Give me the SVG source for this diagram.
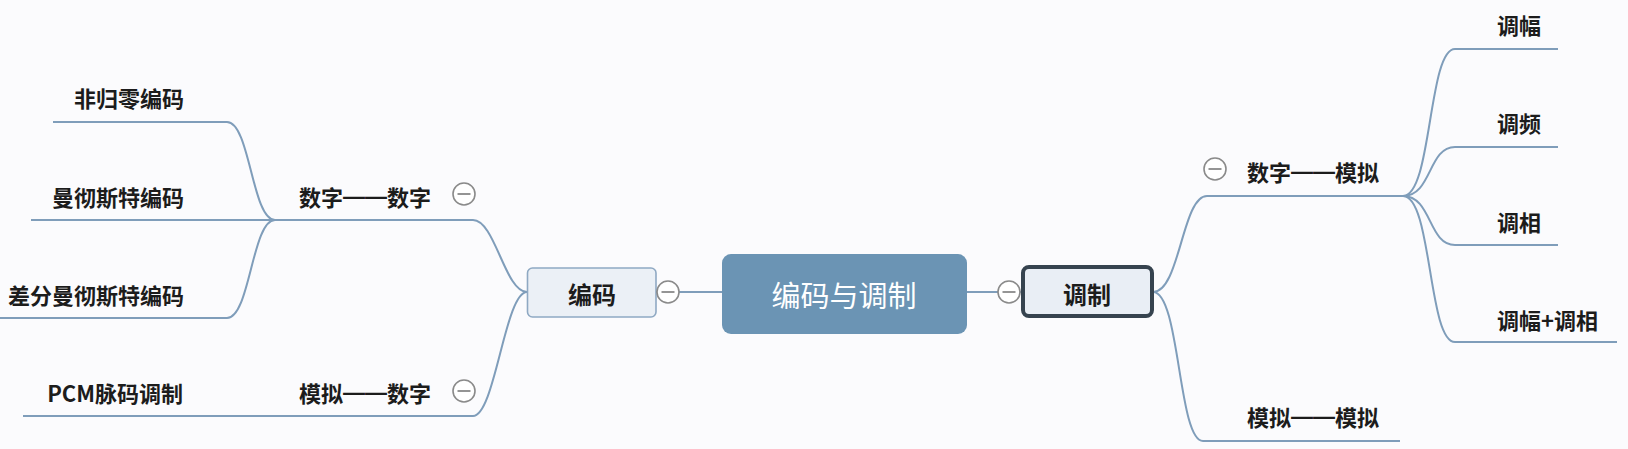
<svg xmlns="http://www.w3.org/2000/svg" width="1628" height="449" viewBox="0 0 1628 449">
<style>
.bg{fill:#fbfbfd}
.ln{fill:none;stroke:#7f9dba;stroke-width:2}
.t{font-family:"Noto Sans CJK SC","Noto Sans",sans-serif;font-weight:bold;font-size:22px;fill:#1c1c1c;dominant-baseline:central}
.dash{font-family:"Liberation Sans",sans-serif}
.tc{font-family:"Noto Sans CJK SC","Noto Sans",sans-serif;font-size:29px;fill:#ffffff;dominant-baseline:central;text-anchor:middle}
.tb{font-family:"Noto Sans CJK SC","Noto Sans",sans-serif;font-weight:bold;font-size:24px;fill:#1c1c1c;dominant-baseline:central;text-anchor:middle}
.end{text-anchor:end}
.cb{fill:#ffffff;stroke:#8a8a8a;stroke-width:1.6}
.cm{stroke:#7a7a7a;stroke-width:1.6}
</style>
<defs>
<g id="minus"><circle class="cb" r="11"/><line class="cm" x1="-6.5" y1="0" x2="6.5" y2="0"/></g>
</defs>
<rect class="bg" x="0" y="0" width="1628" height="449"/>
<g id="connectors">
<line class="ln" x1="656" y1="292" x2="722" y2="292"/>
<line class="ln" x1="967" y1="292" x2="1022" y2="292"/>
<path class="ln" d="M527 292 C505 292 495 220 473 220 L275 220"/>
<path class="ln" d="M527 292 C505 292 495 416 473 416 L23 416"/>
<path class="ln" d="M275 220 C252 220 250 122 227 122 L53 122"/>
<path class="ln" d="M275 220 L31 220"/>
<path class="ln" d="M275 220 C252 220 250 318 227 318 L0 318"/>
<path class="ln" d="M1153 292 C1180 292 1182 196 1207 196 L1403 196"/>
<path class="ln" d="M1153 292 C1180 292 1178 441 1203 441 L1400 441"/>
<path class="ln" d="M1403 196 C1432 196 1428 49 1455 49 L1558 49"/>
<path class="ln" d="M1403 196 C1432 196 1428 147 1455 147 L1558 147"/>
<path class="ln" d="M1403 196 C1432 196 1428 245 1455 245 L1558 245"/>
<path class="ln" d="M1403 196 C1432 196 1428 342 1455 342 L1617 342"/>
</g>
<g id="root">
<rect x="722" y="254" width="245" height="80" rx="9" fill="#6b94b4"/>
<text class="tc" x="844" y="294">编码与调制</text>
</g>
<g id="encode">
<rect x="527.5" y="268" width="128.5" height="49" rx="5" fill="#ebf0f6" stroke="#8fa9c3" stroke-width="1.6"/>
<text class="tb" x="592" y="293">编码</text>
<use href="#minus" x="668" y="292"/>
</g>
<g id="modulate">
<rect x="1023" y="267" width="129" height="49" rx="6" fill="#e9eef5" stroke="#36434f" stroke-width="4"/>
<text class="tb" x="1087" y="293">调制</text>
<use href="#minus" x="1009" y="292"/>
</g>
<g id="d2d">
<text class="t" x="299" y="196">数字<tspan class="dash">——</tspan>数字</text>
<use href="#minus" x="464" y="194"/>
</g>
<g id="a2d">
<text class="t" x="299" y="392">模拟<tspan class="dash">——</tspan>数字</text>
<use href="#minus" x="464" y="391"/>
</g>
<g id="nrz"><text class="t end" x="184" y="97">非归零编码</text></g>
<g id="manchester"><text class="t end" x="184" y="196">曼彻斯特编码</text></g>
<g id="diffman"><text class="t end" x="184" y="294">差分曼彻斯特编码</text></g>
<g id="pcm"><text class="t end" x="183" y="392">PCM脉码调制</text></g>
<g id="d2a">
<text class="t" x="1247" y="171">数字<tspan class="dash">——</tspan>模拟</text>
<use href="#minus" x="1215" y="169"/>
</g>
<g id="a2a"><text class="t" x="1247" y="416">模拟<tspan class="dash">——</tspan>模拟</text></g>
<g id="am"><text class="t" x="1497" y="24">调幅</text></g>
<g id="fm"><text class="t" x="1497" y="122">调频</text></g>
<g id="pm"><text class="t" x="1497" y="221">调相</text></g>
<g id="ampm"><text class="t" x="1497" y="319">调幅+调相</text></g>
</svg>
